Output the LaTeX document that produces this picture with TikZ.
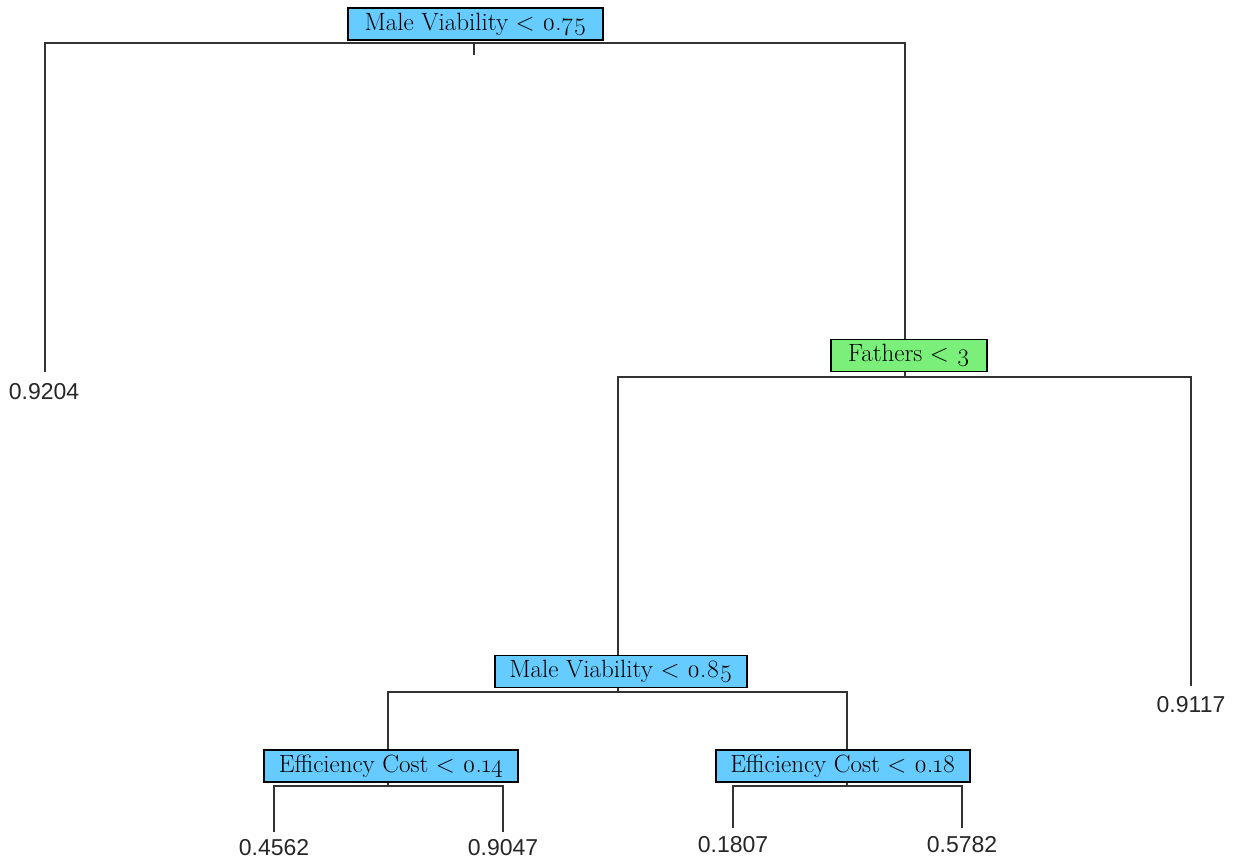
\documentclass[tikz,border=0pt]{standalone}
\usepackage{fontspec}
\setmainfont{Latin Modern Roman}[Numbers=OldStyle]
\newfontfamily\leaffont{Liberation Sans}
\begin{document}
\begin{tikzpicture}[x=1pt,y=-1pt,
  branch/.style={draw=black!80, line width=1.4pt},
  split/.style={draw=black, line width=1.5pt, fill=#1, font=\fontsize{25}{27}\selectfont,
    minimum height=32pt, inner sep=0pt, anchor=center},
  leaf/.style={font=\leaffont\fontsize{23}{25}\selectfont, text=black!85, inner sep=0pt}]
\definecolor{splitblue}{RGB}{102,204,255}
\definecolor{splitgreen}{RGB}{122,240,122}
\useasboundingbox (0,0) rectangle (1236,860);

% branch geometry
\coordinate (r) at (474,43);   \coordinate (rs) at (474,55);
\coordinate (rl) at (45,43);   \coordinate (rr) at (905,43);
\coordinate (rlb) at (45,372); \coordinate (rrb) at (905,340);
\coordinate (f) at (905,377);  \coordinate (fs) at (905,370);
\coordinate (fl) at (618,377); \coordinate (fr) at (1191,377);
\coordinate (flb) at (618,656); \coordinate (frb) at (1191,686);
\coordinate (m) at (618,692);  \coordinate (ms) at (618,685);
\coordinate (ml) at (388,692); \coordinate (mr) at (847,692);
\coordinate (mlb) at (388,752); \coordinate (mrb) at (847,752);
\coordinate (a) at (388,786);
\coordinate (al) at (274,786); \coordinate (ar) at (503,786);
\coordinate (alb) at (274,832); \coordinate (arb) at (503,832);
\coordinate (b) at (847,786);
\coordinate (bl) at (733,786); \coordinate (br) at (962,786);
\coordinate (blb) at (733,828); \coordinate (brb) at (962,828);

\draw[branch] (rlb) -- (rl) -- (rr) -- (rrb);
\draw[branch] (r) -- (rs);
\draw[branch] (flb) -- (fl) -- (fr) -- (frb);
\draw[branch] (f) -- (fs);
\draw[branch] (mlb) -- (ml) -- (mr) -- (mrb);
\draw[branch] (m) -- (ms);
\draw[branch] (alb) -- (al) -- (ar) -- (arb);
\draw[branch] (a) -- ++(0,-6);
\draw[branch] (blb) -- (bl) -- (br) -- (brb);
\draw[branch] (b) -- ++(0,-6);

% split boxes
\node[split=splitblue, minimum width=255pt] (n1) at (475.5,24) {Male Viability < 0.75};
\node[split=splitgreen, minimum width=156pt] (n2) at (909,355.5) {Fathers < 3};
\node[split=splitblue, minimum width=252pt] (n3) at (621,671.5) {Male Viability < 0.85};
\node[split=splitblue, minimum width=254pt] (n4) at (391,766) {Efficiency Cost < 0.14};
\node[split=splitblue, minimum width=254pt] (n5) at (843,766) {Efficiency Cost < 0.18};

% leaf values
\node[leaf] (l1) at (44,392) {0.9204};
\node[leaf] (l2) at (1191,705) {0.9117};
\node[leaf] (l3) at (274,848) {0.4562};
\node[leaf] (l4) at (503,848) {0.9047};
\node[leaf] (l5) at (733,845) {0.1807};
\node[leaf] (l6) at (962,845) {0.5782};
\end{tikzpicture}
\end{document}
